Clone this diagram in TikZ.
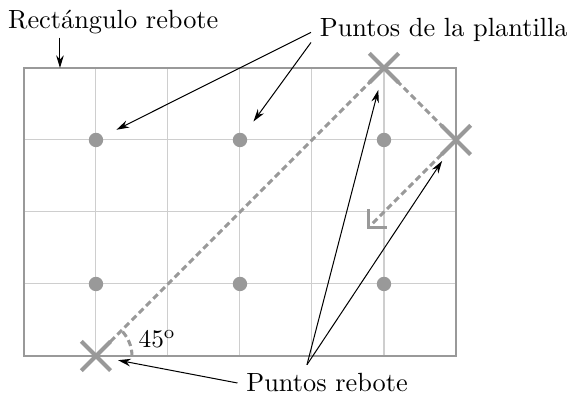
\documentclass[tikz,border=0pt]{standalone}
\usepackage{fontspec}
\usetikzlibrary{arrows.meta, positioning, shapes.misc}
\definecolor{rgray}{RGB}{153,153,153}
\definecolor{lgray}{RGB}{206,206,206}

\begin{document}
\begin{tikzpicture}[
  font=\fontsize{10.4}{12.5}\selectfont,
  punto/.style={circle,fill=rgray,inner sep=0pt,minimum size=0.2cm},
  rebote/.style={cross out,draw=rgray,line width=1.6pt,inner sep=0pt,minimum size=0.35cm},
  tray/.style={rgray,line width=1.2pt,dash pattern=on 2.5pt off 1.5pt},
  arr/.style={-{Stealth[length=5pt,width=3pt]},black,thin}
]
\useasboundingbox (-0.333,-0.556) rectangle (7.625,4.944);
\draw[lgray,thin] (0,0) grid (6,4);
\draw[rgray,line width=0.8pt] (0,0) rectangle (6,4);
\coordinate (rtop) at (0.5,4);
\node[punto] (p1) at (1,3) {};
\node[punto] (p2) at (3,3) {};
\node[punto] (p3) at (5,3) {};
\node[punto] (p4) at (1,1) {};
\node[punto] (p5) at (3,1) {};
\node[punto] (p6) at (5,1) {};
\coordinate (fin) at (4.77,1.77);
\draw[tray] (1,0) -- (5,4) -- (6,3);
\draw[tray,-{Straight Barb[length=5pt,width=10pt,line width=1.2pt]}] (6,3) -- (fin);
\draw[tray] (1.5,0) arc (0:45:0.5);
\node[rebote] (r1) at (1,0) {};
\node[rebote] (r2) at (5,4) {};
\node[rebote] (r3) at (6,3) {};
\node (ang) at (1.85,0.24) {$45^{\mathrm{o}}$};
\node (lblrect) at (1.24,4.64) {Rectángulo rebote};
\node (lblplant) at (5.83,4.53) {Puntos de la plantilla};
\node (lblreb) at (4.21,-0.375) {Puntos rebote};
\draw[arr] ([yshift=2pt]lblrect.south -| rtop) -- (rtop);
\draw[arr,shorten >=6pt] ([yshift=-1pt]lblplant.west) -- (p1);
\draw[arr,shorten >=6pt] ([yshift=-5pt]lblplant.west) -- (p2);
\draw[arr,shorten >=3pt] (lblreb.west) -- (r1);
\draw[arr,shorten >=3pt] ([xshift=-0.28cm]lblreb.north) -- (r2);
\draw[arr,shorten >=3pt] ([xshift=-0.28cm]lblreb.north) -- (r3);
\end{tikzpicture}
\end{document}
